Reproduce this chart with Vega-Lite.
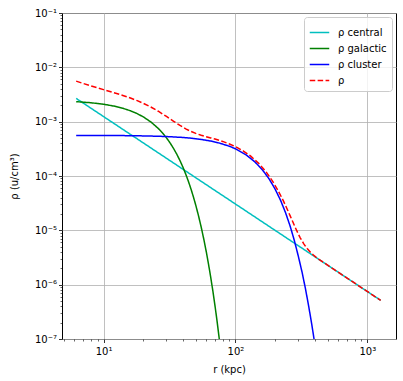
{
  "$schema": "https://vega.github.io/schema/vega-lite/v6.json",
  "autosize": "none",
  "width": 334,
  "height": 326,
  "padding": {"left": 62, "top": 13, "right": 7, "bottom": 42},
  "background": "#ffffff",
  "config": {
    "font": "DejaVu Sans",
    "view": {"stroke": "#000000", "strokeWidth": 1},
    "axis": {"domain": false, "labelFont": "DejaVu Sans", "titleFont": "DejaVu Sans", "labelFontSize": 10, "titleFontSize": 10, "titleFontWeight": "normal", "labelColor": "#000", "titleColor": "#000", "tickColor": "#000", "gridColor": "#b0b0b0", "gridWidth": 0.8, "labelOverlap": false, "labelFlush": false}
  },
  "data": {"values": [
    {"r": 6.2, "rho": 2.68e-3, "series": "ρ central"},
    {"r": 10, "rho": 1.241e-3, "series": "ρ central"},
    {"r": 20, "rho": 4.07e-4, "series": "ρ central"},
    {"r": 30, "rho": 2.117e-4, "series": "ρ central"},
    {"r": 50, "rho": 9.3e-5, "series": "ρ central"},
    {"r": 100, "rho": 3.05e-5, "series": "ρ central"},
    {"r": 200, "rho": 9.98e-6, "series": "ρ central"},
    {"r": 300, "rho": 5.2e-6, "series": "ρ central"},
    {"r": 500, "rho": 2.284e-6, "series": "ρ central"},
    {"r": 1000, "rho": 7.48e-7, "series": "ρ central"},
    {"r": 1263, "rho": 5.14e-7, "series": "ρ central"},

    {"r": 6.2, "rho": 2.335e-3, "series": "ρ galactic"},
    {"r": 8, "rho": 2.231e-3, "series": "ρ galactic"},
    {"r": 10, "rho": 2.092e-3, "series": "ρ galactic"},
    {"r": 12, "rho": 1.934e-3, "series": "ρ galactic"},
    {"r": 14, "rho": 1.763e-3, "series": "ρ galactic"},
    {"r": 16, "rho": 1.585e-3, "series": "ρ galactic"},
    {"r": 18, "rho": 1.404e-3, "series": "ρ galactic"},
    {"r": 20, "rho": 1.226e-3, "series": "ρ galactic"},
    {"r": 23, "rho": 9.75e-4, "series": "ρ galactic"},
    {"r": 26, "rho": 7.5e-4, "series": "ρ galactic"},
    {"r": 28, "rho": 6.19e-4, "series": "ρ galactic"},
    {"r": 30, "rho": 5.03e-4, "series": "ρ galactic"},
    {"r": 32, "rho": 4.04e-4, "series": "ρ galactic"},
    {"r": 34, "rho": 3.19e-4, "series": "ρ galactic"},
    {"r": 36, "rho": 2.488e-4, "series": "ρ galactic"},
    {"r": 38, "rho": 1.912e-4, "series": "ρ galactic"},
    {"r": 40, "rho": 1.448e-4, "series": "ρ galactic"},
    {"r": 42, "rho": 1.081e-4, "series": "ρ galactic"},
    {"r": 44, "rho": 7.96e-5, "series": "ρ galactic"},
    {"r": 46, "rho": 5.78e-5, "series": "ρ galactic"},
    {"r": 48, "rho": 4.13e-5, "series": "ρ galactic"},
    {"r": 50, "rho": 2.916e-5, "series": "ρ galactic"},
    {"r": 52.5, "rho": 1.848e-5, "series": "ρ galactic"},
    {"r": 55, "rho": 1.146e-5, "series": "ρ galactic"},
    {"r": 57.5, "rho": 6.94e-6, "series": "ρ galactic"},
    {"r": 60, "rho": 4.12e-6, "series": "ρ galactic"},
    {"r": 62.5, "rho": 2.385e-6, "series": "ρ galactic"},
    {"r": 65, "rho": 1.352e-6, "series": "ρ galactic"},
    {"r": 67.5, "rho": 7.5e-7, "series": "ρ galactic"},
    {"r": 70, "rho": 4.07e-7, "series": "ρ galactic"},
    {"r": 72.5, "rho": 2.157e-7, "series": "ρ galactic"},
    {"r": 75, "rho": 1.118e-7, "series": "ρ galactic"},
    {"r": 77.5, "rho": 5.67e-8, "series": "ρ galactic"},

    {"r": 6.2, "rho": 5.59e-4, "series": "ρ cluster"},
    {"r": 10, "rho": 5.57e-4, "series": "ρ cluster"},
    {"r": 14, "rho": 5.54e-4, "series": "ρ cluster"},
    {"r": 20, "rho": 5.47e-4, "series": "ρ cluster"},
    {"r": 26, "rho": 5.39e-4, "series": "ρ cluster"},
    {"r": 30, "rho": 5.32e-4, "series": "ρ cluster"},
    {"r": 38, "rho": 5.16e-4, "series": "ρ cluster"},
    {"r": 46, "rho": 4.97e-4, "series": "ρ cluster"},
    {"r": 55, "rho": 4.71e-4, "series": "ρ cluster"},
    {"r": 65, "rho": 4.4e-4, "series": "ρ cluster"},
    {"r": 75, "rho": 4.06e-4, "series": "ρ cluster"},
    {"r": 90, "rho": 3.53e-4, "series": "ρ cluster"},
    {"r": 100, "rho": 3.17e-4, "series": "ρ cluster"},
    {"r": 120, "rho": 2.466e-4, "series": "ρ cluster"},
    {"r": 140, "rho": 1.834e-4, "series": "ρ cluster"},
    {"r": 160, "rho": 1.303e-4, "series": "ρ cluster"},
    {"r": 180, "rho": 8.85e-5, "series": "ρ cluster"},
    {"r": 200, "rho": 5.74e-5, "series": "ρ cluster"},
    {"r": 220, "rho": 3.56e-5, "series": "ρ cluster"},
    {"r": 240, "rho": 2.105e-5, "series": "ρ cluster"},
    {"r": 260, "rho": 1.191e-5, "series": "ρ cluster"},
    {"r": 280, "rho": 6.44e-6, "series": "ρ cluster"},
    {"r": 300, "rho": 3.32e-6, "series": "ρ cluster"},
    {"r": 320, "rho": 1.7e-6, "series": "ρ cluster"},
    {"r": 340, "rho": 8.3e-7, "series": "ρ cluster"},
    {"r": 360, "rho": 3.9e-7, "series": "ρ cluster"},
    {"r": 380, "rho": 1.8e-7, "series": "ρ cluster"},
    {"r": 400, "rho": 8.0e-8, "series": "ρ cluster"},
    {"r": 415, "rho": 4.5e-8, "series": "ρ cluster"},

    {"r": 6.2, "rho": 5.574e-3, "series": "ρ"},
    {"r": 7, "rho": 5.054e-3, "series": "ρ"},
    {"r": 8, "rho": 4.567e-3, "series": "ρ"},
    {"r": 9, "rho": 4.192e-3, "series": "ρ"},
    {"r": 10, "rho": 3.89e-3, "series": "ρ"},
    {"r": 12, "rho": 3.415e-3, "series": "ρ"},
    {"r": 14, "rho": 3.039e-3, "series": "ρ"},
    {"r": 16, "rho": 2.72e-3, "series": "ρ"},
    {"r": 18, "rho": 2.436e-3, "series": "ρ"},
    {"r": 20, "rho": 2.18e-3, "series": "ρ"},
    {"r": 23, "rho": 1.843e-3, "series": "ρ"},
    {"r": 26, "rho": 1.556e-3, "series": "ρ"},
    {"r": 30, "rho": 1.247e-3, "series": "ρ"},
    {"r": 34, "rho": 1.016e-3, "series": "ρ"},
    {"r": 38, "rho": 8.52e-4, "series": "ρ"},
    {"r": 42, "rho": 7.37e-4, "series": "ρ"},
    {"r": 46, "rho": 6.61e-4, "series": "ρ"},
    {"r": 50, "rho": 6.08e-4, "series": "ρ"},
    {"r": 55, "rho": 5.62e-4, "series": "ρ"},
    {"r": 60, "rho": 5.29e-4, "series": "ρ"},
    {"r": 65, "rho": 5.02e-4, "series": "ρ"},
    {"r": 70, "rho": 4.79e-4, "series": "ρ"},
    {"r": 75, "rho": 4.54e-4, "series": "ρ"},
    {"r": 80, "rho": 4.33e-4, "series": "ρ"},
    {"r": 90, "rho": 3.89e-4, "series": "ρ"},
    {"r": 100, "rho": 3.48e-4, "series": "ρ"},
    {"r": 115, "rho": 2.88e-4, "series": "ρ"},
    {"r": 130, "rho": 2.34e-4, "series": "ρ"},
    {"r": 150, "rho": 1.713e-4, "series": "ρ"},
    {"r": 170, "rho": 1.21e-4, "series": "ρ"},
    {"r": 190, "rho": 8.24e-5, "series": "ρ"},
    {"r": 210, "rho": 5.46e-5, "series": "ρ"},
    {"r": 230, "rho": 3.55e-5, "series": "ρ"},
    {"r": 240, "rho": 2.849e-5, "series": "ρ"},
    {"r": 250, "rho": 2.29e-5, "series": "ρ"},
    {"r": 260, "rho": 1.845e-5, "series": "ρ"},
    {"r": 270, "rho": 1.497e-5, "series": "ρ"},
    {"r": 280, "rho": 1.225e-5, "series": "ρ"},
    {"r": 290, "rho": 1.014e-5, "series": "ρ"},
    {"r": 300, "rho": 8.52e-6, "series": "ρ"},
    {"r": 310, "rho": 7.28e-6, "series": "ρ"},
    {"r": 320, "rho": 6.38e-6, "series": "ρ"},
    {"r": 330, "rho": 5.65e-6, "series": "ρ"},
    {"r": 340, "rho": 5.08e-6, "series": "ρ"},
    {"r": 350, "rho": 4.62e-6, "series": "ρ"},
    {"r": 370, "rho": 3.97e-6, "series": "ρ"},
    {"r": 390, "rho": 3.52e-6, "series": "ρ"},
    {"r": 410, "rho": 3.19e-6, "series": "ρ"},
    {"r": 430, "rho": 2.92e-6, "series": "ρ"},
    {"r": 500, "rho": 2.284e-6, "series": "ρ"},
    {"r": 600, "rho": 1.702e-6, "series": "ρ"},
    {"r": 750, "rho": 1.189e-6, "series": "ρ"},
    {"r": 900, "rho": 8.86e-7, "series": "ρ"},
    {"r": 1050, "rho": 6.92e-7, "series": "ρ"},
    {"r": 1263, "rho": 5.14e-7, "series": "ρ"}
  ]},
  "mark": {"type": "line", "strokeWidth": 1.5, "clip": true},
  "encoding": {
    "x": {
      "field": "r", "type": "quantitative",
      "scale": {"type": "log", "domain": [4.84, 1650], "nice": false},
      "axis": {
        "title": "r (kpc)",
        "titlePadding": 8,
        "labelPadding": 4,
        "values": [5,6,7,8,9,10,20,30,40,50,60,70,80,90,100,200,300,400,500,600,700,800,900,1000],
        "labelExpr": "indexof([10,100,1000], datum.value) >= 0 ? ['10¹','10²','10³'][indexof([10,100,1000], datum.value)] : ''",
        "gridOpacity": {"condition": {"test": "indexof([10,100,1000], datum.value) >= 0", "value": 1}, "value": 0},
        "tickSize": {"condition": {"test": "indexof([10,100,1000], datum.value) >= 0", "value": 3.5}, "value": 2},
        "tickWidth": {"condition": {"test": "indexof([10,100,1000], datum.value) >= 0", "value": 0.8}, "value": 0.6}
      }
    },
    "y": {
      "field": "rho", "type": "quantitative",
      "scale": {"type": "log", "domain": [1e-7, 0.1], "nice": false},
      "axis": {
        "title": "ρ (u/cm³)",
        "titlePadding": 15,
        "labelPadding": 2,
        "values": [1e-7,2e-7,3e-7,4e-7,5e-7,6e-7,7e-7,8e-7,9e-7,1e-6,2e-6,3e-6,4e-6,5e-6,6e-6,7e-6,8e-6,9e-6,1e-5,2e-5,3e-5,4e-5,5e-5,6e-5,7e-5,8e-5,9e-5,1e-4,2e-4,3e-4,4e-4,5e-4,6e-4,7e-4,8e-4,9e-4,1e-3,2e-3,3e-3,4e-3,5e-3,6e-3,7e-3,8e-3,9e-3,1e-2,2e-2,3e-2,4e-2,5e-2,6e-2,7e-2,8e-2,9e-2,0.1],
        "labelExpr": "indexof([1e-7,1e-6,1e-5,1e-4,1e-3,1e-2,0.1], datum.value) >= 0 ? ['10⁻⁷','10⁻⁶','10⁻⁵','10⁻⁴','10⁻³','10⁻²','10⁻¹'][indexof([1e-7,1e-6,1e-5,1e-4,1e-3,1e-2,0.1], datum.value)] : ''",
        "gridOpacity": {"condition": {"test": "indexof([1e-7,1e-6,1e-5,1e-4,1e-3,1e-2,0.1], datum.value) >= 0", "value": 1}, "value": 0},
        "tickSize": {"condition": {"test": "indexof([1e-7,1e-6,1e-5,1e-4,1e-3,1e-2,0.1], datum.value) >= 0", "value": 3.5}, "value": 2},
        "tickWidth": {"condition": {"test": "indexof([1e-7,1e-6,1e-5,1e-4,1e-3,1e-2,0.1], datum.value) >= 0", "value": 0.8}, "value": 0.6}
      }
    },
    "color": {
      "field": "series", "type": "nominal",
      "scale": {"domain": ["ρ central", "ρ galactic", "ρ cluster", "ρ"], "range": ["#00BFBF", "#008000", "#0000FF", "#FF0000"]},
      "legend": {"title": null, "orient": "top-right", "offset": 4, "fillColor": "rgba(255,255,255,0.8)", "strokeColor": "#cccccc", "cornerRadius": 3, "padding": 5, "symbolType": "stroke", "symbolSize": 380, "symbolStrokeWidth": 1.5, "labelFontSize": 10, "labelFont": "DejaVu Sans", "labelColor": "#000", "rowPadding": 0, "labelOffset": 8}
    },
    "strokeDash": {
      "field": "series", "type": "nominal",
      "scale": {"domain": ["ρ central", "ρ galactic", "ρ cluster", "ρ"], "range": [[1, 0], [1, 0], [1, 0], [5.5, 2.4]]},
      "legend": {"title": null, "orient": "top-right", "offset": 4, "fillColor": "rgba(255,255,255,0.8)", "strokeColor": "#cccccc", "cornerRadius": 3, "padding": 5, "symbolType": "stroke", "symbolSize": 380, "symbolStrokeWidth": 1.5, "labelFontSize": 10, "labelFont": "DejaVu Sans", "labelColor": "#000", "rowPadding": 0, "labelOffset": 8}
    }
  }
}
